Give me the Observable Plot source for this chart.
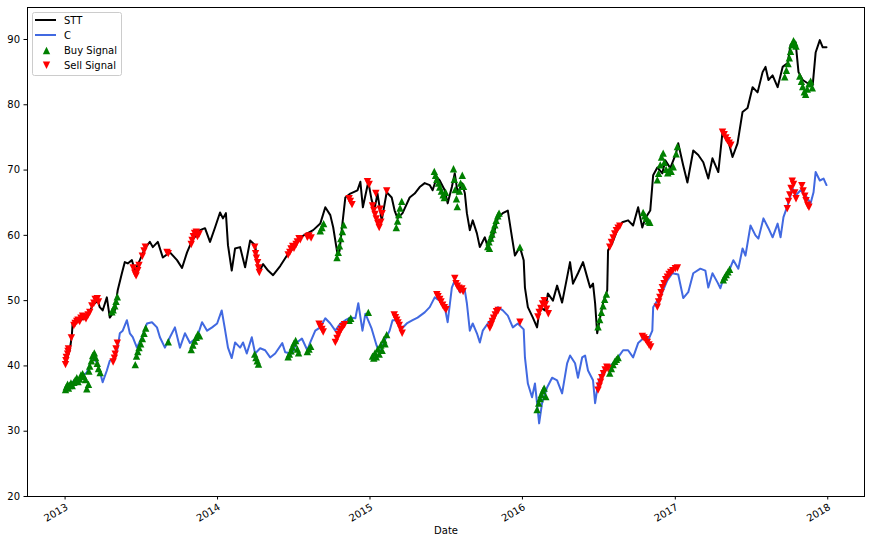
<!DOCTYPE html>
<html>
<head>
<meta charset="utf-8">
<script src="https://cdn.jsdelivr.net/npm/d3@7"></script>
<script src="https://cdn.jsdelivr.net/npm/@observablehq/plot@0.6"></script>
<style>
  html, body { margin: 0; padding: 0; background: white; }
  #wrap { position: relative; width: 871px; height: 546px; }
  #legend { position: absolute; left: 32px; top: 12px; }
</style>
</head>
<body>
<div id="wrap"></div>
<script>
// ---- STT closing prices ----
const sttDates = ["2013-01-02","2013-01-12","2013-01-17","2013-01-19","2013-02-05","2013-02-22","2013-03-08","2013-03-20","2013-03-25","2013-04-01","2013-04-11","2013-04-18","2013-04-30","2013-05-07","2013-05-17","2013-05-24","2013-05-31","2013-06-10","2013-06-17","2013-06-29","2013-07-11","2013-07-23","2013-07-30","2013-08-11","2013-08-23","2013-09-09","2013-09-26","2013-10-08","2013-10-20","2013-11-01","2013-11-20","2013-12-02","2013-12-14","2013-12-26","2014-01-07","2014-01-14","2014-01-21","2014-01-26","2014-02-04","2014-02-12","2014-02-24","2014-03-08","2014-03-20","2014-04-01","2014-04-10","2014-04-20","2014-05-02","2014-05-14","2014-05-31","2014-06-17","2014-07-01","2014-07-18","2014-08-04","2014-08-18","2014-09-04","2014-09-16","2014-09-28","2014-10-05","2014-10-15","2014-10-20","2014-10-27","2014-11-03","2014-11-15","2014-12-02","2014-12-09","2014-12-15","2014-12-28","2015-01-05","2015-01-12","2015-01-19","2015-01-29","2015-02-10","2015-02-22","2015-03-01","2015-03-08","2015-03-20","2015-04-06","2015-04-18","2015-04-30","2015-05-12","2015-05-24","2015-05-31","2015-06-10","2015-06-17","2015-06-29","2015-07-06","2015-07-16","2015-07-23","2015-07-30","2015-08-09","2015-08-16","2015-08-21","2015-08-28","2015-09-04","2015-09-14","2015-09-21","2015-10-03","2015-10-10","2015-10-22","2015-11-03","2015-11-15","2015-11-27","2015-12-07","2015-12-14","2015-12-26","2016-01-04","2016-01-07","2016-01-14","2016-01-26","2016-02-05","2016-02-12","2016-02-24","2016-03-02","2016-03-14","2016-03-24","2016-04-05","2016-04-17","2016-04-24","2016-05-01","2016-05-13","2016-05-25","2016-06-04","2016-06-11","2016-06-18","2016-06-23","2016-06-28","2016-07-05","2016-07-12","2016-07-22","2016-07-24","2016-08-03","2016-08-15","2016-08-27","2016-09-10","2016-09-22","2016-10-04","2016-10-14","2016-10-21","2016-11-02","2016-11-09","2016-11-19","2016-12-01","2016-12-08","2016-12-20","2017-01-03","2017-01-08","2017-01-20","2017-01-30","2017-02-13","2017-02-25","2017-03-09","2017-03-21","2017-03-31","2017-04-14","2017-04-24","2017-05-06","2017-05-18","2017-05-30","2017-06-11","2017-06-23","2017-07-05","2017-07-17","2017-07-29","2017-08-05","2017-08-12","2017-08-22","2017-09-03","2017-09-15","2017-09-27","2017-10-04","2017-10-16","2017-10-23","2017-11-02","2017-11-14","2017-11-26","2017-12-03","2017-12-13","2017-12-20","2017-12-29"];
const sttPrices = [40.4,42.4,44.5,46.5,47.0,47.4,49.3,50.0,49.0,48.5,50.5,47.4,48.5,51.6,54.2,55.9,55.7,56.2,54.6,56.2,58.0,59.0,58.2,59.0,56.6,57.4,56.2,55.0,57.4,59.2,60.8,61.1,59.0,61.2,63.5,62.6,63.4,58.5,54.6,58.0,58.2,55.1,59.2,58.5,54.3,55.6,54.6,53.9,55.3,57.0,58.0,59.7,60.3,60.8,61.8,64.3,63.1,61.2,57.2,57.6,61.8,65.8,66.4,66.9,68.2,64.3,68.2,65.4,64.1,66.4,62.3,66.6,65.8,63.8,62.6,63.4,65.8,66.4,67.4,68.0,67.7,66.9,68.9,68.4,66.9,64.9,67.4,69.5,66.4,68.0,66.5,63.4,60.8,62.3,60.3,58.2,59.7,58.2,59.7,62.6,63.4,63.8,59.7,56.9,58.2,56.2,52.0,49.0,47.4,45.9,49.0,48.5,51.1,50.0,52.3,49.7,53.6,55.9,52.6,54.2,55.9,53.6,52.0,52.6,49.6,45.0,47.4,49.6,51.6,57.7,58.8,60.8,62.0,62.3,61.5,64.3,61.2,62.6,63.8,69.2,70.4,69.5,71.5,70.3,72.6,74.1,70.7,68.1,73.0,72.3,71.2,68.7,71.8,69.7,75.8,74.9,72.0,74.1,78.9,79.5,82.7,81.9,85.0,85.8,83.8,84.5,82.7,85.8,86.4,89.2,89.6,85.0,83.8,83.3,83.0,88.0,89.9,88.8,88.8];

// ---- C closing prices ----
const cDates = ["2013-01-02","2013-01-12","2013-02-05","2013-02-22","2013-03-08","2013-03-20","2013-04-01","2013-04-11","2013-04-18","2013-04-30","2013-05-07","2013-05-12","2013-05-19","2013-05-29","2013-06-05","2013-06-12","2013-06-22","2013-07-04","2013-07-16","2013-07-28","2013-08-09","2013-08-16","2013-08-28","2013-09-09","2013-09-21","2013-10-03","2013-10-15","2013-10-27","2013-11-13","2013-11-25","2013-12-07","2013-12-19","2013-12-31","2014-01-11","2014-01-18","2014-01-26","2014-02-04","2014-02-12","2014-02-24","2014-03-03","2014-03-12","2014-03-24","2014-04-01","2014-04-13","2014-04-25","2014-05-07","2014-05-19","2014-06-05","2014-06-12","2014-06-28","2014-07-10","2014-07-22","2014-08-04","2014-08-11","2014-08-23","2014-09-04","2014-09-16","2014-09-28","2014-10-10","2014-10-22","2014-11-03","2014-11-15","2014-11-27","2014-12-04","2014-12-14","2014-12-21","2015-01-05","2015-01-17","2015-01-24","2015-02-05","2015-02-17","2015-02-24","2015-03-08","2015-03-18","2015-03-30","2015-04-13","2015-04-25","2015-05-12","2015-05-24","2015-06-05","2015-06-17","2015-06-29","2015-07-06","2015-07-16","2015-07-23","2015-08-04","2015-08-16","2015-08-21","2015-08-28","2015-09-04","2015-09-14","2015-09-21","2015-09-28","2015-10-10","2015-10-22","2015-11-03","2015-11-15","2015-11-27","2015-12-09","2015-12-21","2016-01-04","2016-01-07","2016-01-14","2016-01-24","2016-01-31","2016-02-05","2016-02-10","2016-02-17","2016-02-29","2016-03-12","2016-03-24","2016-04-05","2016-04-17","2016-04-24","2016-05-06","2016-05-13","2016-05-23","2016-05-30","2016-06-06","2016-06-18","2016-06-23","2016-06-30","2016-07-12","2016-07-24","2016-08-05","2016-08-17","2016-08-29","2016-09-10","2016-09-22","2016-10-04","2016-10-16","2016-10-28","2016-11-07","2016-11-09","2016-11-19","2016-12-01","2016-12-13","2016-12-25","2017-01-08","2017-01-20","2017-02-01","2017-02-13","2017-03-02","2017-03-14","2017-03-21","2017-03-31","2017-04-12","2017-04-19","2017-04-26","2017-05-08","2017-05-20","2017-06-01","2017-06-11","2017-06-18","2017-06-30","2017-07-12","2017-07-19","2017-07-31","2017-08-12","2017-08-22","2017-09-03","2017-09-10","2017-09-17","2017-09-27","2017-10-09","2017-10-16","2017-10-28","2017-11-09","2017-11-21","2017-11-28","2017-12-03","2017-12-13","2017-12-22","2017-12-29"];
const cPrices = [36.7,37.3,38.2,39.0,41.3,40.4,37.5,39.3,40.8,41.2,42.8,45.0,45.4,47.0,45.0,44.4,42.8,44.4,46.5,46.7,45.9,44.4,42.8,44.4,45.9,42.8,45.0,43.5,44.4,46.7,45.4,45.9,46.5,48.5,45.9,42.8,41.2,43.6,42.8,43.6,41.9,44.4,41.9,42.7,42.4,41.3,41.9,43.5,42.1,41.9,43.6,44.2,42.4,43.6,45.4,45.9,47.3,46.5,45.4,46.5,47.0,47.4,47.3,49.6,45.4,48.0,45.7,43.1,41.9,43.9,45.4,47.0,47.0,45.7,46.5,47.0,47.4,48.2,49.0,50.5,50.0,49.0,46.7,52.0,53.1,51.3,51.6,49.6,45.4,46.5,45.0,43.6,45.4,46.5,47.4,49.0,48.5,47.7,45.9,46.5,45.6,41.3,37.3,35.2,37.3,34.3,31.2,34.3,36.7,38.2,37.8,35.8,40.4,41.6,40.4,38.2,41.3,41.6,39.3,37.8,34.3,37.3,39.3,39.8,40.4,41.3,42.4,42.4,41.3,43.5,44.2,43.9,45.4,49.0,50.0,51.3,53.1,54.2,54.0,50.4,51.3,54.2,54.9,54.6,52.0,54.2,52.8,51.9,53.4,54.3,56.2,54.9,58.0,56.9,61.5,60.0,59.5,62.6,61.1,59.7,61.8,59.7,62.8,64.6,67.2,66.1,66.9,66.1,64.9,66.6,69.7,68.4,68.7,67.7];

// ---- Buy signals ----
const buyDates = ["2013-01-02","2013-01-04","2013-01-07","2013-01-09","2013-01-11","2013-01-15","2013-01-18","2013-01-22","2013-01-25","2013-01-29","2013-02-01","2013-02-05","2013-02-08","2013-02-12","2013-02-15","2013-02-19","2013-02-22","2013-02-26","2013-02-27","2013-03-01","2013-03-05","2013-03-08","2013-03-12","2013-03-15","2013-03-19","2013-03-22","2013-03-26","2013-04-23","2013-04-26","2013-04-30","2013-05-03","2013-05-06","2013-06-18","2013-06-21","2013-06-24","2013-06-27","2013-07-01","2013-07-05","2013-07-09","2013-07-13","2013-09-05","2013-10-30","2013-11-03","2013-11-07","2013-11-11","2013-11-15","2013-11-19","2014-03-31","2014-04-03","2014-04-06","2014-04-09","2014-06-19","2014-06-22","2014-06-26","2014-06-29","2014-07-03","2014-07-07","2014-07-11","2014-07-14","2014-08-04","2014-08-08","2014-08-12","2014-09-04","2014-09-08","2014-09-12","2014-10-14","2014-10-17","2014-10-20","2014-10-23","2014-10-27","2014-10-30","2014-11-12","2014-11-16","2014-12-28","2015-01-07","2015-01-10","2015-01-13","2015-01-16","2015-01-20","2015-01-23","2015-01-27","2015-01-30","2015-02-03","2015-02-06","2015-02-10","2015-03-05","2015-03-08","2015-03-11","2015-03-14","2015-03-18","2015-06-04","2015-06-07","2015-06-10","2015-06-14","2015-06-17","2015-06-21","2015-06-25","2015-06-28","2015-07-01","2015-07-20","2015-07-22","2015-07-24","2015-07-27","2015-07-29","2015-08-03","2015-08-06","2015-08-10","2015-08-13","2015-10-10","2015-10-13","2015-10-14","2015-10-17","2015-10-20","2015-10-23","2015-10-27","2015-10-30","2015-11-03","2015-11-06","2015-12-26","2016-02-05","2016-02-09","2016-02-12","2016-02-15","2016-02-19","2016-02-22","2016-02-26","2016-06-30","2016-07-04","2016-07-08","2016-07-12","2016-07-16","2016-07-20","2016-07-28","2016-08-01","2016-08-05","2016-08-09","2016-08-13","2016-08-17","2016-10-16","2016-10-20","2016-10-24","2016-10-28","2016-11-01","2016-11-19","2016-11-22","2016-11-26","2016-11-29","2016-12-03","2016-12-06","2016-12-10","2016-12-14","2016-12-18","2016-12-22","2016-12-27","2017-01-03","2017-01-06","2017-04-26","2017-04-29","2017-05-03","2017-05-07","2017-05-11","2017-09-20","2017-09-24","2017-09-28","2017-10-01","2017-10-04","2017-10-07","2017-10-11","2017-10-14","2017-10-17","2017-10-26","2017-10-30","2017-11-02","2017-11-06","2017-11-09","2017-11-13","2017-11-17","2017-11-21","2017-11-25"];
const buyPrices = [36.4,36.8,37.2,36.6,37.0,37.4,37.0,37.5,37.8,38.2,37.6,38.0,38.6,38.8,38.4,37.9,36.5,37.2,39.2,40.0,40.8,41.6,42.0,41.3,40.4,39.6,39.0,48.3,48.6,49.2,49.9,50.6,40.2,41.5,42.2,42.8,43.4,44.2,45.0,45.8,43.7,42.5,43.2,43.8,44.4,44.9,44.6,41.8,41.3,40.8,40.3,41.4,41.8,42.3,42.9,43.5,43.9,42.6,42.0,42.2,42.6,43.0,60.7,61.2,61.8,56.6,57.4,58.4,59.5,60.6,61.6,47.0,47.3,48.2,41.5,41.2,42.0,41.4,42.6,41.8,43.2,42.4,44.0,43.4,44.8,61.2,62.2,63.2,64.2,65.2,69.8,69.2,68.6,68.0,67.4,66.8,66.2,65.8,66.6,70.2,68.6,67.0,65.6,64.4,66.8,68.0,69.2,67.5,58.3,59.0,58.0,59.6,60.2,60.9,61.6,62.3,63.0,63.4,58.2,33.3,34.3,35.0,35.6,36.2,36.6,35.3,46.0,47.1,48.2,49.2,50.2,51.0,38.9,39.6,40.2,40.7,41.0,41.3,63.5,63.0,62.6,62.2,62.0,68.5,69.5,70.8,72.0,72.6,71.2,70.1,69.6,70.0,69.8,70.5,72.5,73.6,53.2,53.6,54.0,54.4,54.8,84.3,85.3,86.3,87.2,88.2,89.2,89.8,89.5,89.0,84.4,83.6,82.8,82.0,81.6,82.4,83.2,83.6,82.6];

// ---- Sell signals ----
const sellDates = ["2013-01-02","2013-01-03","2013-01-04","2013-01-07","2013-01-08","2013-01-09","2013-01-16","2013-01-22","2013-01-25","2013-01-29","2013-02-01","2013-02-05","2013-02-08","2013-02-12","2013-02-15","2013-02-20","2013-02-25","2013-03-01","2013-03-06","2013-03-11","2013-03-14","2013-03-19","2013-03-22","2013-04-26","2013-04-29","2013-05-01","2013-05-03","2013-05-06","2013-06-13","2013-06-17","2013-06-20","2013-06-24","2013-06-27","2013-07-05","2013-07-09","2013-07-12","2013-09-02","2013-09-05","2013-10-30","2013-11-01","2013-11-04","2013-11-07","2013-11-11","2013-11-14","2013-11-18","2014-03-31","2014-04-02","2014-04-04","2014-04-07","2014-04-09","2014-04-11","2014-06-19","2014-06-23","2014-06-26","2014-06-30","2014-07-03","2014-07-08","2014-07-11","2014-07-15","2014-07-18","2014-08-04","2014-08-08","2014-08-13","2014-09-01","2014-09-04","2014-09-08","2014-09-11","2014-10-10","2014-10-14","2014-10-17","2014-10-21","2014-10-24","2014-10-28","2014-11-01","2014-11-12","2014-11-15","2014-11-19","2014-12-26","2014-12-30","2015-01-07","2015-01-10","2015-01-13","2015-01-15","2015-01-16","2015-01-20","2015-01-23","2015-01-25","2015-01-27","2015-01-30","2015-02-10","2015-02-28","2015-03-03","2015-03-06","2015-03-09","2015-03-12","2015-03-16","2015-03-19","2015-06-10","2015-06-13","2015-06-17","2015-06-20","2015-06-24","2015-06-28","2015-07-02","2015-07-23","2015-07-26","2015-07-29","2015-08-02","2015-08-05","2015-08-09","2015-08-12","2015-10-15","2015-10-18","2015-10-21","2015-10-24","2015-10-28","2015-10-31","2015-11-04","2015-12-26","2016-02-07","2016-02-10","2016-02-14","2016-02-18","2016-02-22","2016-02-25","2016-02-28","2016-03-03","2016-06-30","2016-07-03","2016-07-06","2016-07-09","2016-07-13","2016-07-17","2016-07-21","2016-07-24","2016-07-28","2016-08-01","2016-08-05","2016-08-09","2016-08-13","2016-08-17","2016-08-21","2016-10-14","2016-10-18","2016-10-22","2016-10-26","2016-10-30","2016-11-03","2016-11-19","2016-11-22","2016-11-25","2016-11-28","2016-12-01","2016-12-05","2016-12-09","2016-12-13","2016-12-17","2016-12-21","2016-12-26","2017-01-01","2017-01-06","2017-04-24","2017-04-28","2017-05-02","2017-05-06","2017-05-10","2017-05-14","2017-09-26","2017-09-29","2017-10-02","2017-10-05","2017-10-08","2017-10-11","2017-10-14","2017-10-17","2017-10-31","2017-11-03","2017-11-07","2017-11-10","2017-11-14","2017-11-17"];
const sellPrices = [40.2,40.8,41.3,41.8,42.2,42.6,44.3,46.2,46.5,46.8,47.0,46.8,47.3,47.6,47.4,47.2,47.8,48.2,49.2,49.6,50.2,50.3,49.8,40.6,41.2,41.8,42.6,43.5,55.0,54.2,53.8,54.6,55.4,56.8,57.6,58.2,57.4,57.2,58.6,59.2,59.8,60.3,60.5,59.8,60.2,58.2,57.2,56.5,55.8,55.0,54.3,57.0,57.4,57.9,58.3,58.0,58.6,59.0,59.5,59.3,59.7,59.9,59.6,46.4,46.0,45.6,45.2,43.6,44.2,44.8,45.2,45.6,46.0,46.3,65.6,65.2,64.7,68.2,67.8,64.5,63.8,63.2,66.4,62.5,61.8,61.2,64.0,62.0,63.3,66.8,47.8,47.4,47.0,46.6,46.2,45.6,45.0,50.9,50.6,50.2,49.8,49.3,48.9,48.6,53.4,52.6,52.2,51.9,51.6,51.8,51.4,45.8,46.3,46.8,47.3,47.8,48.3,48.5,46.7,47.5,48.2,48.8,49.5,50.0,49.4,48.7,48.0,36.3,36.9,37.5,38.2,38.8,39.4,39.8,39.6,58.2,58.9,59.6,60.2,60.7,61.1,61.4,44.5,44.3,44.0,43.6,43.2,42.9,49.0,49.8,50.5,51.2,52.0,52.6,53.2,53.6,54.0,54.3,54.6,54.9,55.0,75.8,75.4,74.9,74.5,74.1,73.8,64.1,65.2,66.2,67.2,68.3,67.8,66.5,65.6,67.6,66.8,66.0,65.3,64.6,64.3];

// ---- Axis ticks ----
const yTicks = [20, 30, 40, 50, 60, 70, 80, 90];
const xTickYears = ["2013", "2014", "2015", "2016", "2017", "2018"];

const parse = d3.utcParse("%Y-%m-%d");
const stt = sttDates.map((d, i) => ({date: parse(d), price: sttPrices[i]}));
const citi = cDates.map((d, i) => ({date: parse(d), price: cPrices[i]}));
const buy = buyDates.map((d, i) => ({date: parse(d), price: buyPrices[i]}));
const sell = sellDates.map((d, i) => ({date: parse(d), price: sellPrices[i]}));

// matplotlib-like triangles (width == height)
const triUp = {draw(ctx, size) { const h = Math.sqrt(size / Math.PI); ctx.moveTo(0, -h); ctx.lineTo(h, h); ctx.lineTo(-h, h); ctx.closePath(); }};
const triDown = {draw(ctx, size) { const h = Math.sqrt(size / Math.PI); ctx.moveTo(0, h); ctx.lineTo(h, -h); ctx.lineTo(-h, -h); ctx.closePath(); }};

const chart = Plot.plot({
  width: 871,
  height: 546,
  marginLeft: 27,
  marginRight: 7,
  marginTop: 7,
  marginBottom: 50,
  style: {fontFamily: "'DejaVu Sans', sans-serif", fontSize: "10px", background: "white", color: "black"},
  x: {type: "utc", domain: [parse("2012-10-03"), parse("2018-03-30")]},
  y: {domain: [20, 94.9]},
  marks: [
    Plot.axisY({ticks: yTicks, tickSize: 3.5, tickPadding: 4, tickFormat: d => String(d), label: null}),
    Plot.axisX({ticks: xTickYears.map(y => parse(y + "-01-01")), tickSize: 3.5, tickPadding: 3, tickRotate: -30, textAnchor: "end", lineAnchor: "top", tickFormat: d3.utcFormat("%Y"), label: null}),
    Plot.line(stt, {x: "date", y: "price", stroke: "black", strokeWidth: 2}),
    Plot.line(citi, {x: "date", y: "price", stroke: "royalblue", strokeWidth: 2}),
    Plot.dot(buy, {x: "date", y: "price", symbol: triUp, r: 3.7, fill: "green"}),
    Plot.dot(sell, {x: "date", y: "price", symbol: triDown, r: 3.7, fill: "red"}),
    Plot.text(["Date"], {frameAnchor: "bottom", dy: 37, fontSize: 10}),
    Plot.frame({stroke: "black", strokeWidth: 1})
  ]
});

const wrap = document.getElementById("wrap");
wrap.appendChild(chart);

// Legend (inside axes, upper left, like matplotlib)
const legend = document.createElement("div");
legend.id = "legend";
legend.innerHTML = `
<svg width="90" height="64" style="font-family:'DejaVu Sans',sans-serif;font-size:10px;display:block">
  <rect x="0.5" y="0.5" width="89" height="63" rx="2" fill="white" fill-opacity="0.8" stroke="#cccccc"/>
  <line x1="3" x2="24" y1="8" y2="8" stroke="black" stroke-width="2"/>
  <text x="32" y="8" dy="0.35em">STT</text>
  <line x1="3" x2="24" y1="23" y2="23" stroke="royalblue" stroke-width="2"/>
  <text x="32" y="23" dy="0.35em">C</text>
  <path d="M14.5,34.8L18.2,42.2L10.8,42.2Z" fill="green"/>
  <text x="32" y="38.5" dy="0.35em">Buy Signal</text>
  <path d="M14.5,56.9L18.2,49.5L10.8,49.5Z" fill="red"/>
  <text x="32" y="53" dy="0.35em">Sell Signal</text>
</svg>`;
wrap.appendChild(legend);
</script>
</body>
</html>
